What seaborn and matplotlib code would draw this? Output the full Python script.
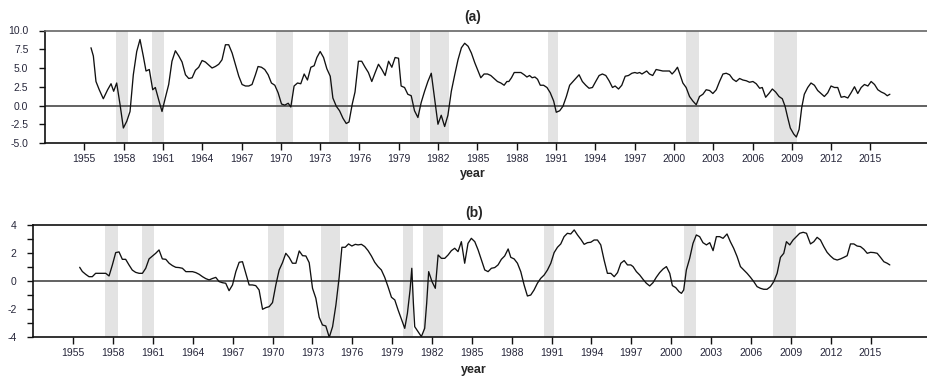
import matplotlib
matplotlib.use("Agg")
import matplotlib.pyplot as plt
from matplotlib.ticker import MultipleLocator, FormatStrFormatter
import pandas as pd
import seaborn as sns

# Recession periods (decimal years)
rec_start = [1957.4, 1960.15, 1969.65, 1973.65, 1979.85, 1981.35, 1990.4, 2000.95, 2007.65]
rec_end = [1958.35, 1961.1, 1970.9, 1975.1, 1980.6, 1982.85, 1991.15, 2001.9, 2009.4]

# Series (a)
year_a = [1955.51, 1955.69, 1955.89, 1956.14, 1956.45, 1956.78, 1957.04, 1957.24, 1957.47, 1957.73,
          1957.98, 1958.24, 1958.49, 1958.74, 1959.0, 1959.25, 1959.5, 1959.71, 1959.96, 1960.22,
          1960.42, 1960.67, 1960.93, 1961.18, 1961.44, 1961.69, 1961.95, 1962.21, 1962.46, 1962.72,
          1962.97, 1963.23, 1963.48, 1963.73, 1963.99, 1964.24, 1964.5, 1964.75, 1965.0, 1965.26,
          1965.51, 1965.77, 1966.02, 1966.28, 1966.53, 1966.79, 1967.04, 1967.3, 1967.55, 1967.8,
          1968.06, 1968.26, 1968.52, 1968.77, 1969.03, 1969.28, 1969.54, 1969.79, 1970.05, 1970.3,
          1970.56, 1970.76, 1971.01, 1971.27, 1971.52, 1971.78, 1972.03, 1972.29, 1972.54, 1972.75,
          1973.0, 1973.26, 1973.51, 1973.77, 1973.97, 1974.23, 1974.48, 1974.74, 1974.99, 1975.2,
          1975.45, 1975.66, 1975.92, 1976.17, 1976.43, 1976.68, 1976.94, 1977.2, 1977.45, 1977.71,
          1977.96, 1978.22, 1978.47, 1978.72, 1978.98, 1979.18, 1979.44, 1979.69, 1979.95, 1980.2,
          1980.46, 1980.71, 1980.97, 1981.22, 1981.48, 1981.73, 1981.99, 1982.24, 1982.5, 1982.75,
          1983.01, 1983.27, 1983.52, 1983.78, 1984.03, 1984.29, 1984.54, 1984.8, 1985.05, 1985.26,
          1985.51, 1985.77, 1986.02, 1986.28, 1986.53, 1986.79, 1987.04, 1987.25, 1987.4, 1987.6,
          1987.81, 1988.06, 1988.32, 1988.57, 1988.78, 1988.98, 1989.18, 1989.39, 1989.59, 1989.8,
          1990.05, 1990.31, 1990.56, 1990.82, 1991.02, 1991.28, 1991.53, 1991.79, 1992.04, 1992.3,
          1992.55, 1992.76, 1993.01, 1993.27, 1993.52, 1993.78, 1994.03, 1994.29, 1994.54, 1994.8,
          1995.05, 1995.31, 1995.51, 1995.77, 1996.02, 1996.28, 1996.53, 1996.79, 1997.02, 1997.2,
          1997.38, 1997.56, 1997.74, 1997.92, 1998.13, 1998.38, 1998.64, 1998.89, 1999.15, 1999.4,
          1999.66, 1999.86, 2000.07, 2000.27, 2000.47, 2000.68, 2000.93, 2001.19, 2001.44, 2001.7,
          2001.95, 2002.21, 2002.46, 2002.72, 2002.97, 2003.23, 2003.48, 2003.74, 2003.99, 2004.25,
          2004.5, 2004.75, 2005.01, 2005.26, 2005.52, 2005.77, 2006.03, 2006.28, 2006.54, 2006.74,
          2007.0, 2007.25, 2007.51, 2007.76, 2008.02, 2008.27, 2008.48, 2008.68, 2008.88, 2009.14,
          2009.34, 2009.55, 2009.75, 2009.95, 2010.21, 2010.46, 2010.72, 2010.97, 2011.23, 2011.48,
          2011.74, 2011.99, 2012.25, 2012.5, 2012.76, 2013.01, 2013.27, 2013.52, 2013.78, 2014.03,
          2014.29, 2014.54, 2014.8, 2015.05, 2015.31, 2015.56, 2015.82, 2016.07, 2016.28, 2016.48]
gap_a = [7.7, 6.6, 3.2, 2.1, 0.9, 2.1, 2.9, 1.9, 3.0, 0.1,
         -3.0, -2.1, -0.8, 4.1, 7.2, 8.8, 6.6, 4.6, 4.8, 2.1,
         2.4, 0.8, -0.8, 1.0, 2.8, 5.9, 7.3, 6.6, 5.8, 4.1,
         3.6, 3.7, 4.7, 5.1, 6.0, 5.8, 5.4, 5.0, 5.2, 5.5,
         6.1, 8.1, 8.1, 7.0, 5.5, 3.9, 2.8, 2.6, 2.6, 2.8,
         4.1, 5.2, 5.1, 4.8, 4.1, 3.0, 2.7, 1.7, 0.2, 0.05,
         0.3, -0.2, 2.6, 3.0, 2.9, 4.2, 3.4, 5.1, 5.3, 6.4,
         7.2, 6.4, 4.9, 3.9, 1.0, -0.1, -0.7, -1.7, -2.4, -2.2,
         0.2, 1.8, 5.9, 5.9, 5.1, 4.4, 3.2, 4.4, 5.5, 4.8,
         4.0, 5.9, 5.1, 6.4, 6.3, 2.6, 2.4, 1.5, 1.3, -0.7,
         -1.6, 0.4, 1.9, 3.2, 4.3, 1.0, -2.5, -1.3, -2.8, -1.3,
         1.9, 4.1, 6.1, 7.7, 8.3, 7.9, 7.0, 5.7, 4.6, 3.7,
         4.2, 4.2, 4.0, 3.6, 3.2, 3.0, 2.7, 3.2, 3.2, 3.7,
         4.4, 4.4, 4.4, 4.1, 3.8, 4.0, 3.7, 3.8, 3.5, 2.7,
         2.7, 2.4, 1.7, 0.6, -0.9, -0.7, -0.1, 1.2, 2.7, 3.2,
         3.7, 4.1, 3.2, 2.7, 2.3, 2.4, 3.2, 4.0, 4.2, 4.0,
         3.3, 2.4, 2.6, 2.2, 2.7, 3.9, 4.0, 4.3, 4.4, 4.3,
         4.4, 4.2, 4.4, 4.6, 4.2, 4.0, 4.8, 4.7, 4.6, 4.6,
         4.6, 4.2, 4.6, 5.1, 4.1, 3.0, 2.4, 1.2, 0.6, 0.1,
         1.2, 1.5, 2.1, 2.0, 1.6, 2.1, 3.2, 4.2, 4.3, 4.1,
         3.5, 3.2, 3.6, 3.4, 3.3, 3.1, 3.2, 2.9, 2.3, 2.4,
         1.1, 1.6, 2.2, 1.8, 1.2, 0.9, -0.1, -1.6, -3.0, -3.8,
         -4.2, -3.2, -0.3, 1.5, 2.4, 3.0, 2.7, 2.0, 1.6, 1.2,
         1.7, 2.6, 2.4, 2.4, 1.1, 1.2, 1.0, 1.7, 2.5, 1.6,
         2.4, 2.8, 2.6, 3.2, 2.8, 2.1, 1.8, 1.6, 1.3, 1.5]

# Series (b)
year_b = [1955.49, 1955.69, 1955.94, 1956.19, 1956.44, 1956.69, 1956.95, 1957.2, 1957.45, 1957.7,
          1957.95, 1958.2, 1958.45, 1958.7, 1958.95, 1959.2, 1959.45, 1959.7, 1959.96, 1960.21,
          1960.46, 1960.71, 1960.96, 1961.21, 1961.46, 1961.71, 1961.97, 1962.22, 1962.47, 1962.72,
          1962.97, 1963.22, 1963.48, 1963.73, 1963.98, 1964.23, 1964.48, 1964.73, 1964.98, 1965.23,
          1965.48, 1965.73, 1965.98, 1966.23, 1966.48, 1966.73, 1966.99, 1967.24, 1967.49, 1967.74,
          1967.99, 1968.24, 1968.49, 1968.74, 1968.99, 1969.25, 1969.5, 1969.75, 1970.0, 1970.25,
          1970.5, 1970.75, 1971.0, 1971.25, 1971.5, 1971.76, 1972.01, 1972.26, 1972.51, 1972.76,
          1973.01, 1973.26, 1973.51, 1973.76, 1974.01, 1974.27, 1974.52, 1974.77, 1975.02, 1975.22,
          1975.47, 1975.72, 1975.97, 1976.23, 1976.44, 1976.69, 1976.94, 1977.19, 1977.44, 1977.69,
          1977.94, 1978.19, 1978.44, 1978.69, 1978.95, 1979.2, 1979.45, 1979.7, 1979.95, 1980.15,
          1980.35, 1980.48, 1980.6, 1980.7, 1980.95, 1981.2, 1981.45, 1981.6, 1981.75, 1982.0,
          1982.25, 1982.46, 1982.71, 1982.96, 1983.21, 1983.46, 1983.71, 1983.96, 1984.21, 1984.46,
          1984.71, 1984.96, 1985.22, 1985.47, 1985.72, 1985.97, 1986.22, 1986.47, 1986.72, 1986.97,
          1987.22, 1987.47, 1987.73, 1987.93, 1988.18, 1988.43, 1988.68, 1988.93, 1989.18, 1989.43,
          1989.68, 1989.93, 1990.18, 1990.44, 1990.69, 1990.94, 1991.19, 1991.44, 1991.69, 1991.94,
          1992.19, 1992.44, 1992.7, 1992.95, 1993.2, 1993.45, 1993.7, 1993.95, 1994.2, 1994.45,
          1994.7, 1994.95, 1995.2, 1995.46, 1995.71, 1995.96, 1996.21, 1996.46, 1996.71, 1996.96,
          1997.13, 1997.38, 1997.63, 1997.88, 1998.13, 1998.38, 1998.63, 1998.88, 1999.13, 1999.39,
          1999.64, 1999.89, 2000.09, 2000.34, 2000.59, 2000.77, 2000.94, 2001.14, 2001.39, 2001.64,
          2001.89, 2002.14, 2002.39, 2002.65, 2002.9, 2003.15, 2003.4, 2003.65, 2003.9, 2004.2,
          2004.45, 2004.7, 2004.96, 2005.21, 2005.46, 2005.71, 2005.96, 2006.21, 2006.46, 2006.71,
          2006.96, 2007.21, 2007.47, 2007.72, 2007.97, 2008.22, 2008.47, 2008.67, 2008.92, 2009.17,
          2009.42, 2009.67, 2009.93, 2010.18, 2010.48, 2010.73, 2010.98, 2011.23, 2011.48, 2011.73,
          2011.98, 2012.23, 2012.49, 2012.74, 2012.99, 2013.24, 2013.49, 2013.74, 2013.99, 2014.24,
          2014.49, 2014.75, 2015.0, 2015.25, 2015.5, 2015.75, 2016.0, 2016.25, 2016.45]
gap_b = [1.0, 0.7, 0.5, 0.33, 0.33, 0.57, 0.57, 0.57, 0.57, 0.38,
         1.17, 2.05, 2.1, 1.57, 1.57, 1.17, 0.8, 0.64, 0.57, 0.57,
         0.93, 1.6, 1.8, 2.0, 2.24, 1.6, 1.57, 1.29, 1.12, 1.0,
         0.98, 0.93, 0.69, 0.69, 0.69, 0.62, 0.5, 0.33, 0.19, 0.1,
         0.2, 0.28, -0.02, -0.1, -0.14, -0.67, -0.26, 0.69, 1.36, 1.4,
         0.57, -0.26, -0.26, -0.31, -0.62, -2.0, -1.88, -1.81, -1.52, -0.26,
         0.81, 1.33, 2.0, 1.71, 1.29, 1.29, 2.17, 1.83, 1.81, 1.33,
         -0.5, -1.21, -2.57, -3.12, -3.19, -4.0, -3.24, -1.69, 0.33, 2.43,
         2.43, 2.67, 2.52, 2.64, 2.6, 2.64, 2.48, 2.19, 1.81, 1.36,
         1.05, 0.81, 0.29, -0.38, -1.14, -1.33, -2.05, -2.71, -3.36, -2.29,
         -0.62, 0.93, -1.57, -3.24, -3.6, -3.95, -3.36, -1.57, 0.69, -0.02,
         -0.5, 1.88, 1.64, 1.64, 1.88, 2.19, 2.36, 2.12, 2.83, 1.29,
         2.71, 3.07, 2.83, 2.24, 1.52, 0.81, 0.69, 0.93, 0.98, 1.17,
         1.57, 1.81, 2.31, 1.71, 1.6, 1.29, 0.69, -0.26, -1.05, -0.98,
         -0.62, -0.14, 0.21, 0.45, 0.81, 1.29, 2.05, 2.43, 2.67, 3.19,
         3.43, 3.38, 3.67, 3.31, 3.0, 2.64, 2.76, 2.79, 2.95, 2.95,
         2.6, 1.52, 0.57, 0.57, 0.33, 0.62, 1.29, 1.48, 1.17, 1.17,
         1.05, 0.69, 0.45, 0.14, -0.14, -0.33, -0.1, 0.29, 0.62, 0.88,
         1.05, 0.57, -0.31, -0.45, -0.74, -0.86, -0.62, 0.81, 1.64, 2.71,
         3.31, 3.19, 2.76, 2.6, 2.76, 2.19, 3.19, 3.19, 3.07, 3.38,
         2.83, 2.36, 1.76, 1.05, 0.81, 0.57, 0.29, -0.02, -0.38, -0.5,
         -0.57, -0.57, -0.38, -0.02, 0.57, 1.71, 2.0, 2.83, 2.6, 2.95,
         3.19, 3.43, 3.5, 3.43, 2.67, 2.83, 3.14, 2.95, 2.48, 2.07,
         1.81, 1.6, 1.52, 1.6, 1.71, 1.83, 2.67, 2.67, 2.52, 2.48,
         2.29, 2.0, 2.07, 2.05, 2.0, 1.71, 1.4, 1.29, 1.17]

year_ticks = list(range(1955, 2016, 3))

sns.set_theme(style="white")
plt.rcParams["font.family"] = ["Liberation Sans", "DejaVu Sans"]

W, H = 927, 378
fig = plt.figure(figsize=(W / 100, H / 100), dpi=100)

# axes placed in pixel terms; the plotting region runs past the right edge
ax_a = fig.add_axes([45 / W, (H - 143) / H, (936 - 45) / W, 112.5 / H])
ax_b = fig.add_axes([33.3 / W, (H - 337.3) / H, (937 - 33.3) / W, 112 / H])

df_a = pd.DataFrame({"year": year_a, "gap": gap_a})
df_b = pd.DataFrame({"year": year_b, "gap": gap_b})

for ax, df in ((ax_a, df_a), (ax_b, df_b)):
    for s, e in zip(rec_start, rec_end):
        ax.axvspan(s, e, color="#e3e3e3", lw=0, zorder=0)
    ax.axhline(0, color="#555555", lw=1.3, zorder=1)
    sns.lineplot(data=df, x="year", y="gap", ax=ax, color="#111111", lw=0.95,
                 estimator=None, sort=False, zorder=3)
    ax.set_xlim(1952, 2020)
    ax.set_xticks(year_ticks)
    ax.set_xticklabels([str(y) for y in year_ticks])
    ax.set_ylabel("")
    ax.set_xlabel("")
    ax.grid(False)
    ax.spines["right"].set_visible(False)
    for side in ("left", "bottom", "top"):
        ax.spines[side].set_linewidth(1.2)
        ax.spines[side].set_color("#111111")
    ax.tick_params(axis="x", direction="out", length=5, width=1.0, color="#111111",
                   labelsize=7.5, labelcolor="#26263a", pad=3, bottom=True)
    ax.tick_params(axis="y", which="both", direction="out", width=1.0, color="#111111",
                   labelsize=7.5, labelcolor="#26263a", left=True)
    ax.tick_params(axis="y", which="major", length=4, pad=8)
    ax.tick_params(axis="y", which="minor", length=4)

ax_a.spines["top"].set_color("#666666")
ax_a.set_ylim(-5, 10)
ax_a.yaxis.set_major_locator(MultipleLocator(2.5))
ax_a.yaxis.set_major_formatter(FormatStrFormatter("%.1f"))

ax_b.set_ylim(-4, 4)
ax_b.yaxis.set_major_locator(MultipleLocator(2))
ax_b.yaxis.set_minor_locator(MultipleLocator(1))
ax_b.yaxis.set_major_formatter(FormatStrFormatter("%d"))

fig.text(473 / W, 1 - 17.5 / H, "(a)", ha="center", va="center", fontsize=10, fontweight="bold")
fig.text(473 / W, 1 - 174.5 / H, "year", ha="center", va="center", fontsize=9, fontweight="bold")
fig.text(474 / W, 1 - 212.5 / H, "(b)", ha="center", va="center", fontsize=10, fontweight="bold")
fig.text(474 / W, 1 - 370 / H, "year", ha="center", va="center", fontsize=9, fontweight="bold")

fig.savefig("out.png", dpi=100)
